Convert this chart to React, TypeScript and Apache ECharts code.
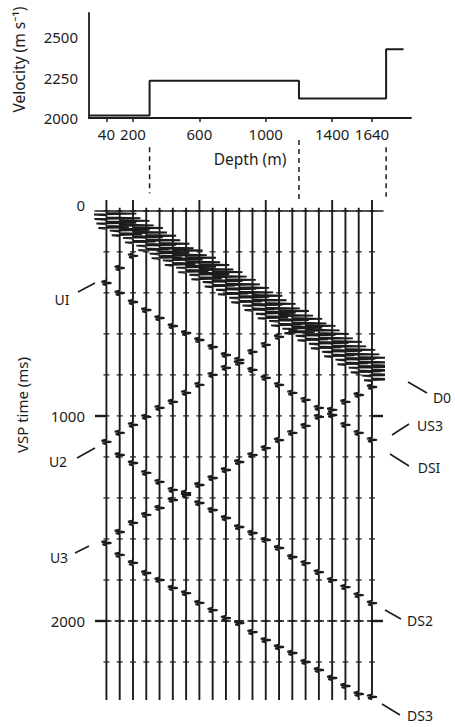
import React, { useEffect, useRef } from "react";
import * as echarts from "echarts";

// ---------- data ----------
// receiver depths of the 21 VSP traces (m)
const DEPTHS = [40, 120, 200, 280, 360, 440, 520, 600, 680, 760, 840, 920, 1000, 1080, 1160, 1240, 1320, 1400, 1480, 1560, 1640];
const DEPTH_TICKS = [40, 200, 600, 1000, 1400, 1640];
const VEL_TICKS = [2000, 2250, 2500];
const TIME_TICKS = [0, 1000, 2000];
const TRACE_MARK_TIMES = [0, 200, 400, 600, 800, 1000, 1200, 1400, 1600, 1800, 2000, 2200];

// velocity model (top panel)
const INTERFACES = [300, 1200, 1725];
const VELOCITIES = [2015, 2230, 2120, 2425];
const PROFILE_START = -65;
const PROFILE_END = 1830;

// arrival times (ms) per trace, starting at the given trace index
const D0_TIMES = [10, 45, 80, 118, 157, 190, 225, 260, 295, 333, 372, 410, 450, 485, 523, 557, 596, 635, 674, 713, 752];
const U1_TIMES = [352, 279, 220];
const DS1_TIMES = [401, 445, 484, 523, 562, 596, 630, 664, 703, 742, 776, 815, 849, 888, 922, 961, 996, 1044, 1083, 1117];
const U2_TIMES = [1127, 1083, 1044, 1005, 961, 932, 888, 849, 800, 766, 727, 688, 654, 615, 581];
const U3_TIMES = [1620, 1566, 1522, 1483, 1449, 1410, 1376, 1337, 1303, 1264, 1225, 1191, 1157, 1118, 1083, 1049, 1005, 971, 932, 898, 859];
const DS2_TIMES = [1191, 1230, 1278, 1322, 1361, 1386, 1425, 1459, 1498, 1542, 1571, 1605, 1644, 1688, 1718, 1762, 1801, 1835, 1874, 1913];
const DS3_TIMES = [1678, 1717, 1766, 1800, 1839, 1864, 1912, 1947, 1986, 2010, 2054, 2093, 2127, 2156, 2200, 2239, 2278, 2317, 2356, 2370];

// wavelet shapes: time offsets (ms) and horizontal excursions (m)
const DIRECT_DT = [0, 4, 8, 12, 22, 26, 30, 34, 44, 48, 52, 56, 66, 70, 74, 78];
const DIRECT_OFF = [0, 180, -85, 0, 0, 205, -72, 0, 0, 180, -60, 0, 0, 135, -48, 0];
const SMALL_DT = [-12, -6, 0, 6, 12];
const SMALL_OFF = [0, -30, 30, -24, 0];

// ---------- layout ----------
const FONT = "'Noto Sans', 'DejaVu Sans', sans-serif";
const INK = "#1c1c1c";
const TOP_GRID = { left: 89, top: 13, width: 322, height: 105 };
const X_MIN_TOP = -65;
const X_MAX_TOP = 1875;
const PX_PER_M = TOP_GRID.width / (X_MAX_TOP - X_MIN_TOP);
const LOW_GRID = { left: 95, top: 139, width: 288, height: 564 };
const X_MIN_LOW = X_MIN_TOP + (LOW_GRID.left - TOP_GRID.left) / PX_PER_M;
const X_MAX_LOW = X_MIN_LOW + LOW_GRID.width / PX_PER_M;
const T_MIN = -350;
const T_MAX = 2400;
const TRACE_END = 2385;
const CONNECTOR_TOP = [-310, -345, -310];
const CONNECTOR_BOTTOM = [-85, -55, -68];

const plain = (v: number) => String(v);

function buildOption() {
  // velocity step profile
  const vel: number[][] = [[PROFILE_START, VELOCITIES[0]]];
  INTERFACES.forEach((z, i) => {
    vel.push([z, VELOCITIES[i]]);
    vel.push([z, VELOCITIES[i + 1]]);
  });
  vel.push([PROFILE_END, VELOCITIES[VELOCITIES.length - 1]]);

  const events = [
    { times: D0_TIMES, first: 0, dt: DIRECT_DT, off: DIRECT_OFF },
    { times: U1_TIMES, first: 0, dt: SMALL_DT, off: SMALL_OFF },
    { times: DS1_TIMES, first: 1, dt: SMALL_DT, off: SMALL_OFF },
    { times: U2_TIMES, first: 0, dt: SMALL_DT, off: SMALL_OFF },
    { times: U3_TIMES, first: 0, dt: SMALL_DT, off: SMALL_OFF },
    { times: DS2_TIMES, first: 1, dt: SMALL_DT, off: SMALL_OFF },
    { times: DS3_TIMES, first: 1, dt: SMALL_DT, off: SMALL_OFF },
  ];

  const traceSeries = DEPTHS.map((d, i) => {
    const pts: number[][] = [];
    events.forEach((ev) => {
      const k = i - ev.first;
      if (k < 0 || k >= ev.times.length) return;
      const t0 = ev.times[k];
      ev.dt.forEach((dt, j) => pts.push([d + ev.off[j], t0 + dt]));
    });
    pts.sort((a, b) => a[1] - b[1]);
    const top = DEPTH_TICKS.includes(d) ? -53 : -15;
    const data = [[d, top], ...pts, [d, TRACE_END]];
    return {
      type: "line",
      xAxisIndex: 1,
      yAxisIndex: 1,
      data,
      showSymbol: false,
      symbol: "none",
      clip: false,
      silent: true,
      lineStyle: { color: INK, width: 1.9 },
      z: 3,
    };
  });

  const markData: number[][] = [];
  DEPTHS.forEach((d) => TRACE_MARK_TIMES.forEach((t) => markData.push([d, t])));

  const labelStyle = { fontFamily: FONT, fontSize: 14, fill: INK, align: "center", verticalAlign: "middle" };
  const eventLabels = [
    { text: "UI", x: 62, y: 299, line: [78, 292, 95, 283] },
    { text: "U2", x: 58, y: 461, line: [77, 458, 95, 448] },
    { text: "U3", x: 59, y: 557, line: [75, 553, 89, 546] },
    { text: "D0", x: 442, y: 397, line: [408, 382, 427, 393] },
    { text: "US3", x: 430, y: 425, line: [392, 435, 409, 424] },
    { text: "DSI", x: 429, y: 467, line: [390, 454, 409, 466] },
    { text: "DS2", x: 420, y: 620, line: [385, 610, 401, 619] },
    { text: "DS3", x: 420, y: 715, line: [382, 704, 400, 715] },
  ];
  const graphic: any[] = [];
  eventLabels.forEach((l) => {
    graphic.push({ type: "text", x: l.x, y: l.y, silent: true, style: { ...labelStyle, text: l.text } });
    graphic.push({
      type: "line",
      silent: true,
      shape: { x1: l.line[0], y1: l.line[1], x2: l.line[2], y2: l.line[3] },
      style: { stroke: INK, lineWidth: 1.6 },
    });
  });
  graphic.push({
    type: "text",
    x: 22,
    y: 405,
    rotation: Math.PI / 2,
    silent: true,
    style: { text: "VSP time (ms)", fontFamily: FONT, fontSize: 15, fill: INK, align: "center", verticalAlign: "middle" },
  });

  return {
    animation: false,
    backgroundColor: "#fff",
    textStyle: { fontFamily: FONT, color: INK },
    grid: [
      { ...TOP_GRID, containLabel: false, outerBoundsMode: "none" },
      { ...LOW_GRID, containLabel: false, outerBoundsMode: "none" },
    ],
    xAxis: [
      {
        type: "value",
        gridIndex: 0,
        min: X_MIN_TOP,
        max: X_MAX_TOP,
        axisLine: { onZero: false, lineStyle: { color: INK, width: 1.8 } },
        axisTick: { show: true, customValues: DEPTH_TICKS, length: 4, lineStyle: { color: INK, width: 1.5 } },
        axisLabel: { customValues: DEPTH_TICKS, formatter: plain, fontSize: 15, fontFamily: FONT, color: INK, margin: 8 },
        splitLine: { show: false },
        name: "Depth (m)",
        nameLocation: "middle",
        nameGap: 33,
        nameTextStyle: { fontSize: 15.5, fontFamily: FONT, color: INK },
      },
      {
        type: "value",
        gridIndex: 1,
        min: X_MIN_LOW,
        max: X_MAX_LOW,
        position: "top",
        axisLine: { onZero: true, lineStyle: { color: INK, width: 1.5 } },
        axisTick: { show: false },
        axisLabel: { show: false },
        splitLine: { show: false },
      },
    ],
    yAxis: [
      {
        type: "value",
        gridIndex: 0,
        min: 2000,
        max: 2650,
        axisLine: { show: true, onZero: false, lineStyle: { color: INK, width: 1.8 } },
        axisTick: { show: false },
        axisLabel: { customValues: VEL_TICKS, formatter: plain, fontSize: 15, fontFamily: FONT, color: INK, margin: 11 },
        splitLine: { show: false },
        name: "Velocity (m s\u207B\u00B9)",
        nameLocation: "middle",
        nameGap: 62,
        nameRotate: 90,
        nameTextStyle: { fontSize: 15.5, fontFamily: FONT, color: INK, padding: [0, 0, 0, 12] },
      },
      {
        type: "value",
        gridIndex: 1,
        min: T_MIN,
        max: T_MAX,
        inverse: true,
        axisLine: { show: false, onZero: false },
        axisTick: { show: true, inside: true, customValues: [1000, 2000], length: 11.5, lineStyle: { color: INK, width: 2.4 } },
        axisLabel: {
          customValues: TIME_TICKS,
          fontSize: 15,
          fontFamily: FONT,
          color: INK,
          margin: 10,
          formatter: (v: number) => (v === 0 ? "{z|0}" : String(v)),
          rich: { z: { fontSize: 15, fontFamily: FONT, color: INK, padding: [0, 0, 12, 0] } },
        },
        splitLine: { show: false },
      },
      {
        type: "value",
        gridIndex: 1,
        position: "right",
        min: T_MIN,
        max: T_MAX,
        inverse: true,
        axisLine: { show: false, onZero: false },
        axisTick: { show: true, inside: true, customValues: [1000, 2000], length: 11, lineStyle: { color: INK, width: 2.4 } },
        axisLabel: { show: false },
        splitLine: { show: false },
      },
    ],
    series: [
      {
        type: "line",
        xAxisIndex: 0,
        yAxisIndex: 0,
        data: vel,
        showSymbol: false,
        symbol: "none",
        silent: true,
        lineStyle: { color: INK, width: 2 },
      },
      ...traceSeries,
      {
        type: "scatter",
        xAxisIndex: 1,
        yAxisIndex: 1,
        data: markData,
        symbol: "rect",
        symbolSize: [6, 1.5],
        silent: true,
        itemStyle: { color: INK },
        z: 4,
      },
      {
        type: "scatter",
        xAxisIndex: 1,
        yAxisIndex: 1,
        data: DEPTHS.map((d) => [d, 2000]),
        symbol: "rect",
        symbolSize: [10, 2],
        silent: true,
        itemStyle: { color: INK },
        z: 4,
      },
    ],
    graphic,
  };
}

export default function App() {
  const ref = useRef<HTMLDivElement>(null);
  useEffect(() => {
    const chart = echarts.init(ref.current!, null, { renderer: "svg" });
    const option: any = buildOption();
    chart.setOption(option);
    // dashed connectors from the velocity interfaces down to the VSP panel,
    // positioned through the lower panel's axes
    const connectors = INTERFACES.map((z, i) => {
      const x = chart.convertToPixel({ xAxisIndex: 1 }, z) as number;
      const y1 = chart.convertToPixel({ yAxisIndex: 1 }, CONNECTOR_TOP[i]) as number;
      const y2 = chart.convertToPixel({ yAxisIndex: 1 }, CONNECTOR_BOTTOM[i]) as number;
      return {
        type: "line",
        silent: true,
        shape: { x1: x, y1, x2: x, y2 },
        style: { stroke: INK, lineWidth: 1.5, lineDash: [5, 4] },
      };
    });
    chart.setOption({ graphic: [...option.graphic, ...connectors] });
    return () => chart.dispose();
  }, []);
  return (
    <div
      ref={ref}
      style={{ position: "fixed", left: 0, top: 0, width: 455, height: 727, background: "#fff" }}
    />
  );
}
